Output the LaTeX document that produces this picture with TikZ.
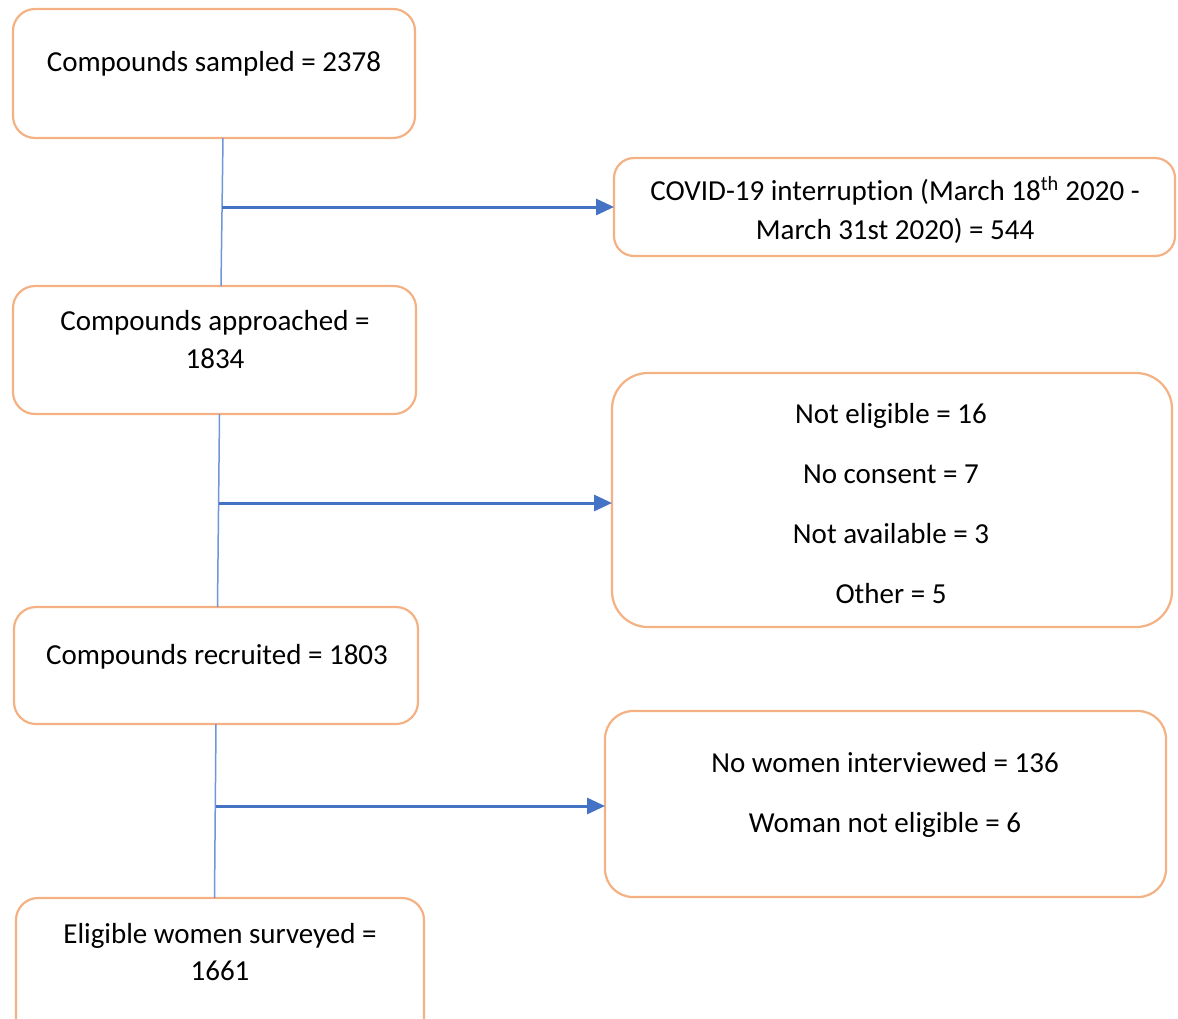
\documentclass[tikz,border=0pt]{standalone}
\usepackage{fontspec}
\setmainfont[Ligatures=NoCommon]{Carlito}
\usetikzlibrary{arrows.meta}
\definecolor{boxorange}{HTML}{F4B183}
\definecolor{arrowblue}{HTML}{4472C4}
\definecolor{lineblue}{HTML}{6F96D8}
\tikzset{
  box/.style={draw=boxorange, line width=2.2pt, fill=white, inner sep=0pt, outer sep=0pt},
  txt/.style={anchor=base, inner sep=0pt, font=\fontsize{29}{36}\selectfont, text=black},
  vline/.style={draw=lineblue, line width=1.5pt},
  flowarrow/.style={draw=arrowblue, line width=3pt, -{Triangle[length=18pt,width=16pt]}}
}
\begin{document}
\begin{tikzpicture}[x=1pt,y=-1pt]
\useasboundingbox (0,0) rectangle (1178,1018);
\clip (0,0) rectangle (1178,1018);
% boxes
\node[box, rounded corners=22pt, minimum width=402pt, minimum height=129pt] (b1) at (214,73.5) {};
\node[box, rounded corners=20pt, minimum width=561pt, minimum height=98pt] (b2) at (894.5,207) {};
\node[box, rounded corners=22pt, minimum width=403pt, minimum height=128pt] (b3) at (214.5,350) {};
\node[box, rounded corners=36pt, minimum width=560pt, minimum height=254pt] (b4) at (892,500) {};
\node[box, rounded corners=22pt, minimum width=404pt, minimum height=117pt] (b5) at (216,665.5) {};
\node[box, rounded corners=28pt, minimum width=561pt, minimum height=186pt] (b6) at (885.5,804) {};
\node[box, rounded corners=22pt, minimum width=408pt, minimum height=150pt] (b7) at (220,973) {};
% texts
\node[txt] (t1) at (214,71) {Compounds sampled = 2378};
\node[txt] (t2a) at (895,200) {COVID-19 interruption (March 18\textsuperscript{th} 2020 -};
\node[txt] (t2b) at (895,239) {March 31st 2020) = 544};
\node[txt] (t3a) at (215,330) {Compounds approached =};
\node[txt] (t3b) at (215,368) {1834};
\node[txt] (t4a) at (891,423) {Not eligible = 16};
\node[txt] (t4b) at (891,483) {No consent = 7};
\node[txt] (t4c) at (891,543) {Not available = 3};
\node[txt] (t4d) at (891,603) {Other = 5};
\node[txt] (t5) at (217,664) {Compounds recruited = 1803};
\node[txt] (t6a) at (885,772) {No women interviewed = 136};
\node[txt] (t6b) at (885,832) {Woman not eligible = 6};
\node[txt] (t7a) at (220,943) {Eligible women surveyed =};
\node[txt] (t7b) at (220,980) {1661};
% junction coordinates
\coordinate (j1) at (222,207);
\coordinate (j2) at (219,503);
\coordinate (j3) at (215.5,806);
% vertical connectors
\draw[vline] (b1.south -| 223,0) -- (b3.north -| 221,0);
\draw[vline] (b3.south -| 219.5,0) -- (b5.north -| 217.5,0);
\draw[vline] (b5.south -| 216,0) -- (b7.north -| 214.5,0);
% arrows
\draw[flowarrow] (j1) -- (j1 -| b2.west);
\draw[flowarrow] (j2) -- (j2 -| b4.west);
\draw[flowarrow] (j3) -- (j3 -| b6.west);
\end{tikzpicture}
\end{document}
